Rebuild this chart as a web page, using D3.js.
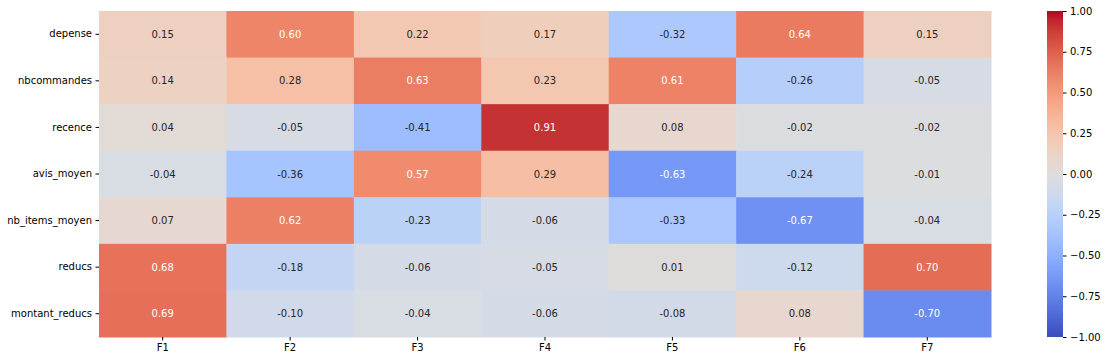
<!DOCTYPE html>
<meta charset="utf-8">
<head>
    <script type="text/javascript" src="https://cdn.jsdelivr.net/npm/d3@7"></script>
    <style>
        body { margin: 0; background: #fff; }
        text { font-family: "DejaVu Sans", sans-serif; font-size: 10px; }
    </style>
</head>
<body>
<script>
    // data
    var rows = ["depense", "nbcommandes", "recence", "avis_moyen", "nb_items_moyen", "reducs", "montant_reducs"];
    var cols = ["F1", "F2", "F3", "F4", "F5", "F6", "F7"];
    var depense = [0.15, 0.60, 0.22, 0.17, -0.32, 0.64, 0.15];
    var nbcommandes = [0.14, 0.28, 0.63, 0.23, 0.61, -0.26, -0.05];
    var recence = [0.04, -0.05, -0.41, 0.91, 0.08, -0.02, -0.02];
    var avis_moyen = [-0.04, -0.36, 0.57, 0.29, -0.63, -0.24, -0.01];
    var nb_items_moyen = [0.07, 0.62, -0.23, -0.06, -0.33, -0.67, -0.04];
    var reducs = [0.68, -0.18, -0.06, -0.05, 0.01, -0.12, 0.70];
    var montant_reducs = [0.69, -0.10, -0.04, -0.06, -0.08, 0.08, -0.70];
    var values = [depense, nbcommandes, recence, avis_moyen, nb_items_moyen, reducs, montant_reducs];
    var cbarTicks = [1.00, 0.75, 0.50, 0.25, 0.00, -0.25, -0.50, -0.75, -1.00];

    // coolwarm control points
    var cw = [[59,76,192],[68,90,204],[77,104,215],[87,117,225],[98,130,234],[108,142,241],[119,154,247],
        [130,165,251],[141,176,254],[152,185,255],[163,194,255],[174,201,253],[184,208,249],[194,213,244],
        [204,217,238],[213,219,230],[221,221,221],[229,216,209],[236,211,197],[241,204,184],[245,196,172],
        [247,187,160],[247,177,148],[247,166,137],[244,154,123],[241,141,111],[236,127,99],[229,112,88],
        [222,96,77],[213,80,66],[203,62,56],[192,40,47],[180,4,38]];
    var cwColors = cw.map(function(c){ return d3.rgb(c[0], c[1], c[2]).toString(); });
    var color = d3.scaleLinear()
        .domain(cwColors.map(function(c, i){ return -1 + 2 * i / (cwColors.length - 1); }))
        .range(cwColors)
        .clamp(true);

    function lum(c) {
        var rgb = d3.rgb(c);
        var ch = [rgb.r, rgb.g, rgb.b].map(function(v){
            v = v / 255;
            return v <= 0.03928 ? v / 12.92 : Math.pow((v + 0.055) / 1.055, 2.4);
        });
        return 0.2126 * ch[0] + 0.7152 * ch[1] + 0.0722 * ch[2];
    }

    var W = 1108, H = 361;
    var mLeft = 99, mTop = 11, mRight = 991, mBottom = 337;

    var svg = d3.select("body").append("svg").attr("width", W).attr("height", H);

    var x = d3.scaleBand().domain(cols).range([mLeft, mRight]);
    var y = d3.scaleBand().domain(rows).range([mTop, mBottom]);

    var cells = [];
    rows.forEach(function(r, i){
        cols.forEach(function(c, j){
            cells.push({row: r, col: c, v: values[i][j]});
        });
    });

    svg.append("g").selectAll("rect").data(cells).enter().append("rect")
        .attr("x", function(d){ return x(d.col); })
        .attr("y", function(d){ return y(d.row); })
        .attr("width", x.bandwidth() + 0.5)
        .attr("height", y.bandwidth() + 0.5)
        .attr("fill", function(d){ return color(d.v); });

    svg.append("g").selectAll("text").data(cells).enter().append("text")
        .attr("x", function(d){ return x(d.col) + x.bandwidth() / 2; })
        .attr("y", function(d){ return y(d.row) + y.bandwidth() / 2; })
        .attr("text-anchor", "middle")
        .attr("dy", "0.35em")
        .attr("fill", function(d){ return lum(color(d.v)) > 0.408 ? "#262626" : "#fff"; })
        .text(function(d){ return d.v.toFixed(2); });

    // axes
    var xAxis = svg.append("g")
        .attr("transform", "translate(0," + mBottom + ")")
        .call(d3.axisBottom(x).tickSize(3.5).tickPadding(3.5));
    var yAxis = svg.append("g")
        .attr("transform", "translate(" + mLeft + ",0)")
        .call(d3.axisLeft(y).tickSize(3.5).tickPadding(3.5));
    [xAxis, yAxis].forEach(function(a){
        a.select(".domain").remove();
        a.selectAll("text").attr("fill", "#000").style("font-size", "10px").style("font-family", "DejaVu Sans");
        a.selectAll("line").attr("stroke", "#000");
    });

    // colorbar
    var cbLeft = 1047, cbW = 16;
    var defs = svg.append("defs");
    var grad = defs.append("linearGradient").attr("id", "cbgrad")
        .attr("x1", 0).attr("y1", 1).attr("x2", 0).attr("y2", 0);
    cwColors.forEach(function(c, i){
        grad.append("stop").attr("offset", (i / (cwColors.length - 1))).attr("stop-color", c);
    });
    svg.append("rect")
        .attr("x", cbLeft).attr("y", mTop)
        .attr("width", cbW).attr("height", mBottom - mTop)
        .attr("fill", "url(#cbgrad)");
    var cy = d3.scaleLinear().domain([-1, 1]).range([mBottom, mTop]);
    var cAxis = svg.append("g")
        .attr("transform", "translate(" + (cbLeft + cbW) + ",0)")
        .call(d3.axisRight(cy).tickValues(cbarTicks).tickSize(3.5).tickPadding(3.5)
            .tickFormat(function(d){ return d3.format(".2f")(d).replace("-", "\u2212"); }));
    cAxis.select(".domain").remove();
    cAxis.selectAll("text").attr("fill", "#000").style("font-size", "10px").style("font-family", "DejaVu Sans");
    cAxis.selectAll("line").attr("stroke", "#000");
</script>
</body>
</html>
